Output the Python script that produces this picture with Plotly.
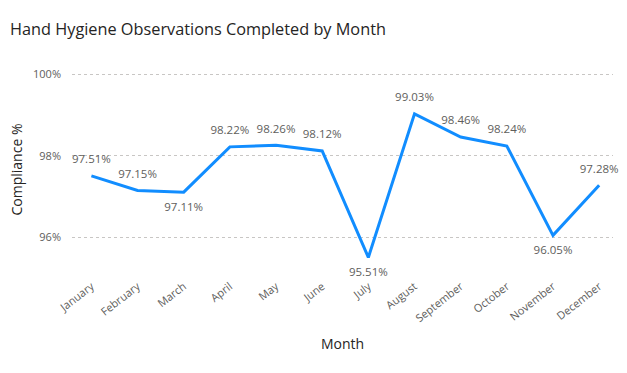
import plotly.graph_objects as go

months = ["January", "February", "March", "April", "May", "June", "July",
          "August", "September", "October", "November", "December"]
compliance = [97.51, 97.15, 97.11, 98.22, 98.26, 98.12, 95.51,
              99.03, 98.46, 98.24, 96.05, 97.28]
label_pos = ["top center", "top center", "bottom center", "top center", "top center",
             "top center", "bottom center", "top center", "top center", "top center",
             "bottom center", "top center"]
y_ticks = [96, 98, 100]
y_tick_text = ["96%", "98%", "100%"]

fig = go.Figure(go.Scatter(
    x=list(range(len(months))), y=compliance,
    mode="lines+markers+text",
    line=dict(color="#118DFF", width=3),
    marker=dict(size=14, color="rgba(0,0,0,0)"),
    text=[f"{v:.2f}%" for v in compliance],
    textposition=label_pos,
    textfont=dict(family="Segoe UI, Open Sans, sans-serif", size=11.5, color="#605E5C"),
    hoverinfo="skip",
    cliponaxis=False,
))

fig.update_layout(
    width=627, height=373,
    margin=dict(l=72, r=14, t=62, b=96),
    paper_bgcolor="white", plot_bgcolor="white",
    showlegend=False,
    title=dict(text="Hand Hygiene Observations Completed by Month",
               x=0.016, xanchor="left", y=0.922, yanchor="middle",
               font=dict(family="Segoe UI, Open Sans, sans-serif", size=16.3, color="#252423")),
    font=dict(family="Segoe UI, Open Sans, sans-serif", color="#605E5C"),
)
fig.update_xaxes(
    range=[-0.42, 11.3],
    tickmode="array", tickvals=list(range(len(months))), ticktext=months,
    tickangle=-38, tickfont=dict(size=11, color="#605E5C"),
    showgrid=False, zeroline=False, showline=False, ticks="",
    title=dict(text="Month", font=dict(size=14, color="#252423"), standoff=15),
)
fig.update_yaxes(
    range=[95.03, 100.3],
    tickmode="array", tickvals=y_ticks, ticktext=y_tick_text,
    tickfont=dict(size=11, color="#605E5C"),
    showgrid=True, gridcolor="#C8C6C4", griddash="dot", gridwidth=1,
    zeroline=False, showline=False, ticks="", ticklabelstandoff=10,
    title=dict(text="Compliance %", font=dict(size=14, color="#252423"), standoff=7),
)

fig.write_html("out.html", config={"displayModeBar": False},
               post_script="document.body.style.margin='0';")
